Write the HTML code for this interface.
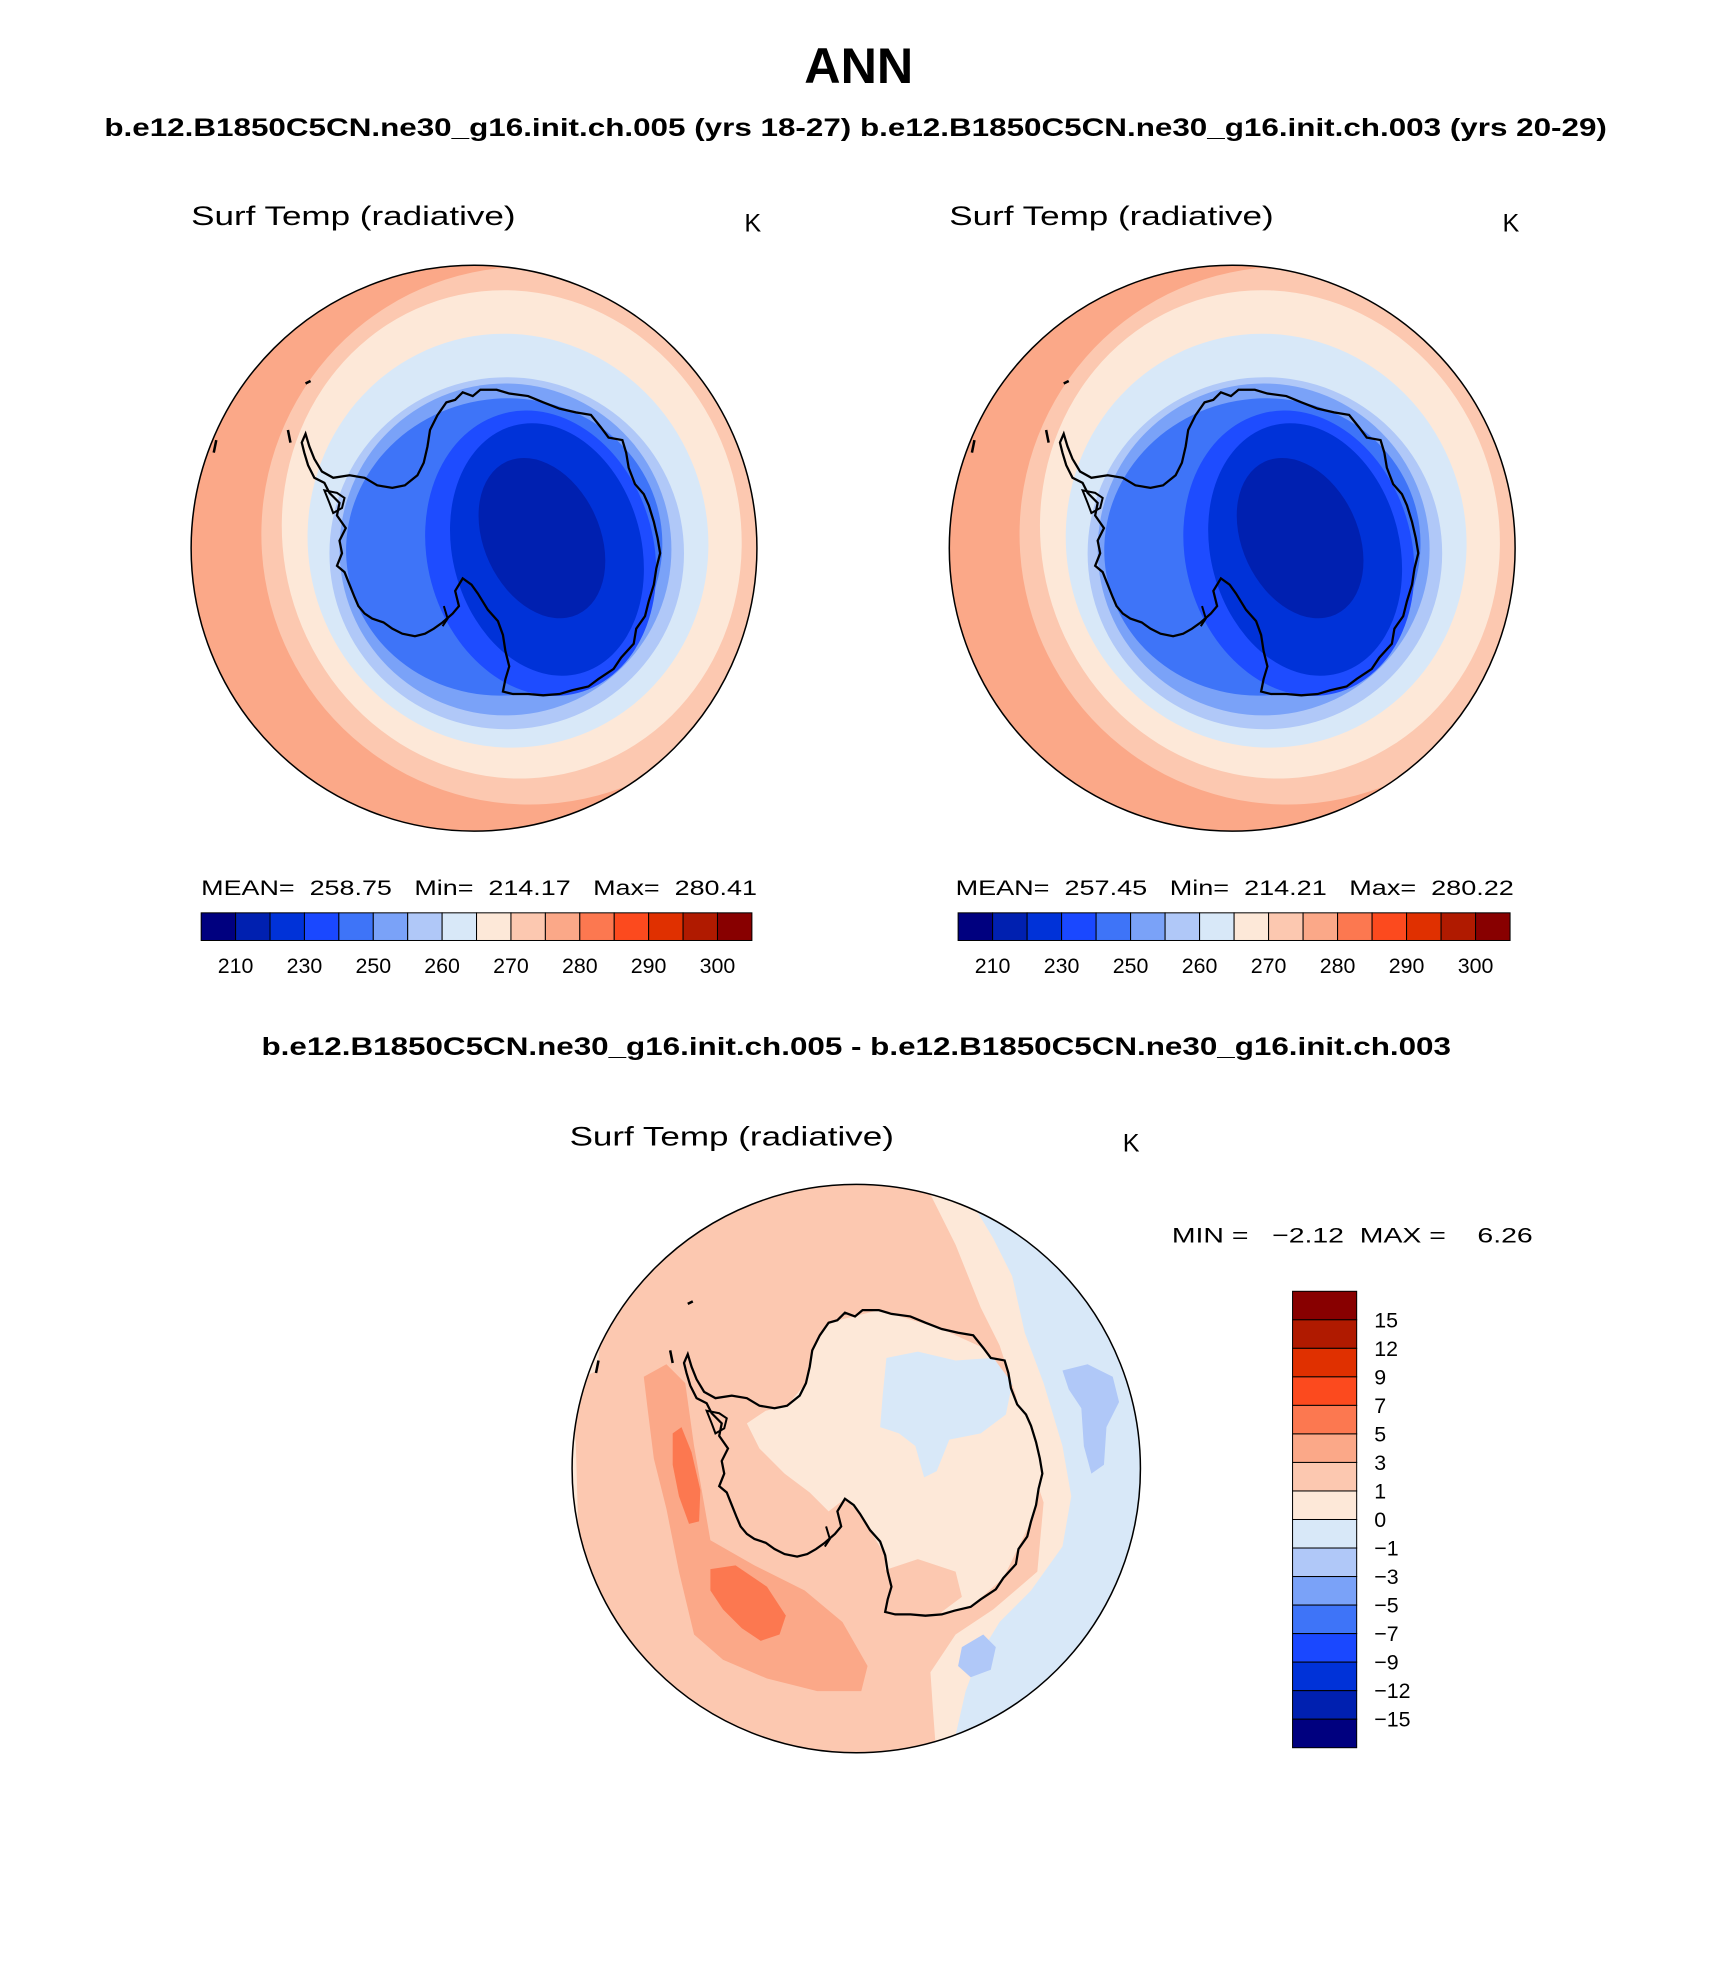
<!DOCTYPE html>
<html><head><meta charset="utf-8"><style>
html,body{margin:0;padding:0;background:#fff}
svg{display:block}
text{font-family:"Liberation Sans",sans-serif;fill:#000}
.b{font-weight:bold}
</style></head><body>
<svg id="fig" width="1710" height="1969" viewBox="0 0 1360 1566" xmlns="http://www.w3.org/2000/svg">
<defs>
<clipPath id="c1"><circle cx="377" cy="436" r="225"/></clipPath>
<clipPath id="c2"><circle cx="980" cy="436" r="225"/></clipPath>
<clipPath id="c3"><circle cx="681" cy="1168" r="226"/></clipPath>
<g id="coast">
<path fill="none" stroke="#000" stroke-width="1.8" d="M355,320 L362,318 L368,312 L376,315 L382,310 L395,310 L405,313 L420,315 L432,320 L445,325 L458,328 L470,330 L478,340 L484,348 L495,350 L498,360 L500,372 L505,385 L512,393 L516,402 L520,415 L523,428 L525,440 L522,452 L520,465 L516,478 L513,490 L506,500 L504,512 L494,523 L488,532 L476,540 L468,546 L455,549 L445,552 L432,553 L420,552 L408,552 L400,550 L402,540 L405,530 L402,518 L400,505 L396,494 L388,485 L380,472 L375,465 L368,460 L362,470 L365,482 L360,488 L352,495 L345,500 L338,504 L330,506 L320,504 L312,500 L305,495 L296,492 L290,488 L285,482 L282,475 L278,465 L274,455 L268,450 L272,440 L270,430 L275,420 L268,410 L270,400 L262,392 L258,384 L250,380 L245,370 L242,360 L240,352 L243,345 L246,355 L250,365 L256,375 L265,380 L278,378 L290,380 L300,386 L312,388 L322,386 L332,378 L337,368 L340,355 L342,342 L348,330 Z"/>
<path fill="none" stroke="#000" stroke-width="1.6" d="M258,390 L268,392 L274,396 L272,404 L265,408 L262,400 Z"/>
<path fill="none" stroke="#000" stroke-width="1.6" d="M353,482 L356,492 L352,498"/>
<path fill="none" stroke="#000" stroke-width="2" d="M243,305 L247,303 M229,342 L231,352 M172,350 L170,360"/>
</g>
</defs>

<text x="683" y="66" text-anchor="middle" class="b" font-size="40">ANN</text>
<text x="83" y="108" class="b" font-size="20" textLength="1195" lengthAdjust="spacingAndGlyphs">b.e12.B1850C5CN.ne30_g16.init.ch.005 (yrs 18-27) b.e12.B1850C5CN.ne30_g16.init.ch.003 (yrs 20-29)</text>

<!-- Left map -->
<g>
<text x="152" y="179" font-size="21" textLength="258" lengthAdjust="spacingAndGlyphs">Surf Temp (radiative)</text>
<text x="592" y="184" font-size="20">K</text>
<g clip-path="url(#c1)" id="mapA">
<rect x="150" y="210" width="455" height="455" fill="#fba888"/>
<ellipse cx="420" cy="426" rx="212" ry="214" fill="#fcc8b0" transform="rotate(-15 420 426)"/>
<ellipse cx="407" cy="425" rx="182" ry="195" fill="#fde8d8" transform="rotate(-15 407 425)"/>
<ellipse cx="404" cy="430" rx="159" ry="165" fill="#d8e8f8" transform="rotate(-15 404 430)"/>
<ellipse cx="403" cy="440" rx="141" ry="140" fill="#b0c8f8"/>
<ellipse cx="402" cy="437" rx="132" ry="132" fill="#7aa2f8"/>
<ellipse cx="401" cy="435" rx="126" ry="118" fill="#3e74f8" transform="rotate(-10 401 435)"/>
<ellipse cx="430" cy="440" rx="90" ry="115" fill="#1e4cff" transform="rotate(-15 430 440)"/>
<ellipse cx="435" cy="437" rx="75" ry="102" fill="#0032d8" transform="rotate(-15 435 437)"/>
<ellipse cx="431" cy="428" rx="46" ry="67" fill="#0020b0" transform="rotate(-25 431 428)"/>
</g>
<use href="#coast"/>
<circle cx="377" cy="436" r="225" fill="none" stroke="#000" stroke-width="1.2"/>
<text x="160" y="712" font-size="17" xml:space="preserve" textLength="442" lengthAdjust="spacingAndGlyphs">MEAN=  258.75   Min=  214.17   Max=  280.41</text>
<g id="cbarA"></g>
</g>

<!-- Right map -->
<g>
<text x="755" y="179" font-size="21" textLength="258" lengthAdjust="spacingAndGlyphs">Surf Temp (radiative)</text>
<text x="1195" y="184" font-size="20">K</text>
<g clip-path="url(#c2)"><use href="#mapA" transform="translate(603,0)"/></g>
<use href="#coast" transform="translate(603,0)"/>
<circle cx="980" cy="436" r="225" fill="none" stroke="#000" stroke-width="1.2"/>
<text x="760" y="712" font-size="17" xml:space="preserve" textLength="444" lengthAdjust="spacingAndGlyphs">MEAN=  257.45   Min=  214.21   Max=  280.22</text>
<g id="cbarB"></g>
</g>

<text x="681" y="839" text-anchor="middle" class="b" font-size="20" textLength="946" lengthAdjust="spacingAndGlyphs">b.e12.B1850C5CN.ne30_g16.init.ch.005 - b.e12.B1850C5CN.ne30_g16.init.ch.003</text>

<!-- Difference map -->
<g>
<text x="453" y="911" font-size="21" textLength="258" lengthAdjust="spacingAndGlyphs">Surf Temp (radiative)</text>
<text x="893" y="916" font-size="20">K</text>
<g clip-path="url(#c3)">
<rect x="450" y="940" width="465" height="460" fill="#fcc8b0"/>
<path fill="#fde8d8" d="M455,1100 L475,1090 L480,1040 L500,1010 L520,990 L540,960 L540,935 L400,935 L400,1400 L480,1400 L470,1300 L460,1220 L458,1150 Z"/>
<path fill="#fde8d8" d="M735,940 L760,990 L780,1040 L795,1070 L808,1110 L815,1150 L830,1195 L825,1250 L790,1280 L760,1300 L740,1330 L742,1360 L745,1400 L920,1400 L920,940 Z"/>
<path fill="#d8e8f8" d="M772,955 L790,985 L805,1015 L815,1060 L830,1100 L845,1150 L852,1190 L845,1230 L820,1265 L795,1290 L778,1318 L768,1345 L760,1380 L920,1400 L920,940 Z"/>
<path fill="#b0c8f8" d="M845,1090 L865,1085 L885,1095 L890,1115 L880,1135 L878,1165 L868,1172 L862,1150 L860,1120 L850,1105 Z"/>
<path fill="#b0c8f8" d="M765,1310 L782,1300 L792,1310 L788,1328 L772,1334 L762,1325 Z"/>
<use href="#coast" transform="translate(304,732)" style="display:none"/>
<path fill="#fde8d8" transform="translate(304,732)" d="M355,320 L395,310 L445,325 L478,340 L500,372 L520,415 L525,440 L516,478 L494,523 L468,546 L432,553 L400,550 L400,505 L380,472 L368,460 L355,470 L340,455 L320,440 L300,420 L290,400 L305,390 L322,386 L337,368 L342,342 Z"/>
<path fill="#fcc8b0" d="M700,1250 L730,1240 L760,1250 L765,1270 L745,1285 L705,1285 Z"/>
<path fill="#d8e8f8" d="M705,1080 L730,1075 L760,1082 L790,1080 L805,1100 L800,1125 L780,1140 L755,1145 L745,1170 L735,1175 L728,1150 L715,1140 L700,1135 L702,1110 Z"/>
<path fill="#fba888" d="M512,1095 L530,1085 L545,1100 L552,1150 L565,1225 L600,1245 L640,1265 L670,1290 L690,1325 L685,1345 L650,1345 L610,1335 L575,1320 L552,1300 L540,1250 L530,1200 L520,1160 L515,1120 Z"/>
<path fill="#fc7850" d="M535,1140 L542,1135 L550,1155 L557,1185 L556,1210 L548,1212 L540,1190 L535,1165 Z"/>
<path fill="#fc7850" d="M565,1248 L585,1245 L610,1262 L625,1285 L620,1300 L605,1305 L590,1295 L575,1280 L565,1265 Z"/>
</g>
<use href="#coast" transform="translate(304,732)"/>
<circle cx="681" cy="1168" r="226" fill="none" stroke="#000" stroke-width="1.2"/>
<text x="932" y="988" font-size="17" xml:space="preserve" textLength="287" lengthAdjust="spacingAndGlyphs">MIN =   −2.12  MAX =    6.26</text>
<g id="cbarC"></g>
</g>
</svg>
<script>
const barColors = ["#00007f","#0020b0","#0032d8","#1a48ff","#3e74f8","#7aa2f8","#b0c8f8","#d8e8f8","#fde8d8","#fcc8b0","#fba888","#fc7850","#fc4a1e","#e03000","#b01a00","#880000"];
const absLabels = ["210","230","250","260","270","280","290","300"];
const diffLabels = ["15","12","9","7","5","3","1","0","−1","−3","−5","−7","−9","−12","−15"];
const NS = "http://www.w3.org/2000/svg";
function hbar(id, x0, x1, y0, y1) {
  const g = document.getElementById(id);
  const w = (x1 - x0) / barColors.length;
  barColors.forEach((c, i) => {
    const r = document.createElementNS(NS, "rect");
    r.setAttribute("x", x0 + i * w); r.setAttribute("y", y0);
    r.setAttribute("width", w); r.setAttribute("height", y1 - y0);
    r.setAttribute("fill", c); r.setAttribute("stroke", "#000"); r.setAttribute("stroke-width", "0.8");
    
    
    g.appendChild(r);
  });
  absLabels.forEach((s, k) => {
    const t = document.createElementNS(NS, "text");
    t.setAttribute("x", x0 + (2 * k + 1) * w); t.setAttribute("y", y1 + 26);
    t.setAttribute("text-anchor", "middle"); t.setAttribute("font-size", "17");
    t.textContent = s;
    
    
    g.appendChild(t);
  });
}
function vbar(id, x0, x1, y0, y1) {
  const g = document.getElementById(id);
  const h = (y1 - y0) / barColors.length;
  barColors.slice().reverse().forEach((c, i) => {
    const r = document.createElementNS(NS, "rect");
    r.setAttribute("x", x0); r.setAttribute("y", y0 + i * h);
    r.setAttribute("width", x1 - x0); r.setAttribute("height", h);
    r.setAttribute("fill", c); r.setAttribute("stroke", "#000"); r.setAttribute("stroke-width", "0.8");
    
    
    g.appendChild(r);
  });
  diffLabels.forEach((s, k) => {
    const t = document.createElementNS(NS, "text");
    t.setAttribute("x", x1 + 14); t.setAttribute("y", y0 + (k + 1) * h + 6);
    t.setAttribute("font-size", "17");
    t.textContent = s;
    
    
    g.appendChild(t);
  });
}
hbar("cbarA", 160, 598, 726, 748);
hbar("cbarB", 762, 1201, 726, 748);
vbar("cbarC", 1028, 1079, 1027, 1390);
</script>
</body></html>
